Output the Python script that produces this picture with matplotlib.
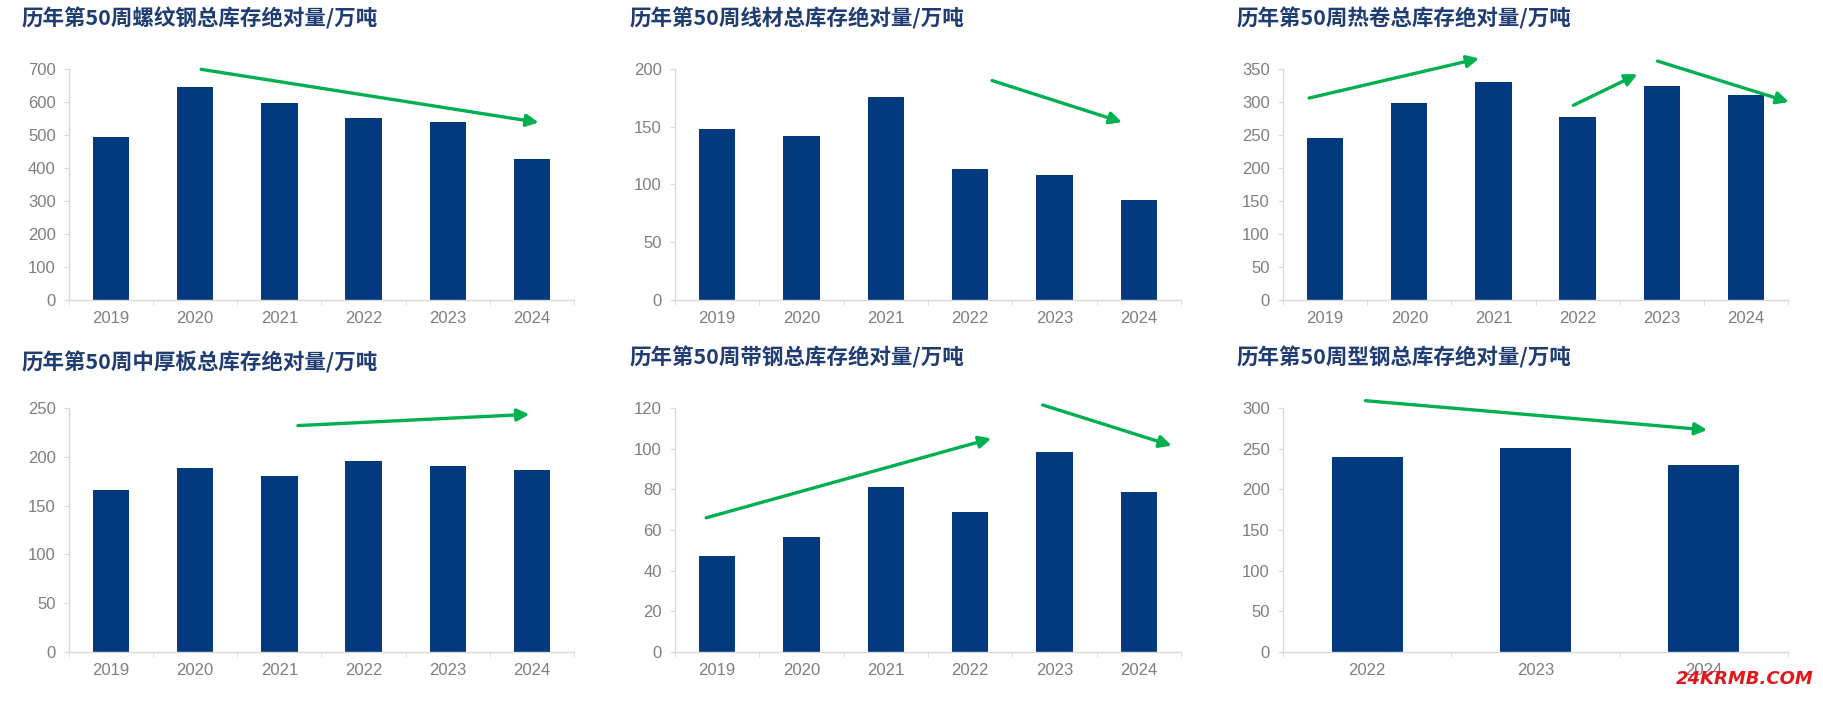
import matplotlib.pyplot as plt
import numpy as np

plt.rcParams['font.family'] = ['Liberation Sans', 'DejaVu Sans']

years6 = ['2019', '2020', '2021', '2022', '2023', '2024']
years3 = ['2022', '2023', '2024']

rebar = [494, 644, 596, 552, 538, 426]
wire = [148, 142, 176, 113, 108, 87]
hotcoil = [245, 298, 330, 277, 325, 310]
plate = [166, 189, 180, 196, 191, 186]
strip = [47, 56.5, 81, 69, 98.5, 78.5]
section = [240, 251, 230]

titles = ['历年第50周螺纹钢总库存绝对量/万吨', '历年第50周线材总库存绝对量/万吨',
          '历年第50周热卷总库存绝对量/万吨', '历年第50周中厚板总库存绝对量/万吨',
          '历年第50周带钢总库存绝对量/万吨', '历年第50周型钢总库存绝对量/万吨']
ymaxes = [700, 200, 350, 250, 120, 300]
ysteps = [100, 50, 50, 50, 20, 50]

# trend arrows per panel: (x0, y0, x1, y1) in data coords
arrows = [
    [(1.07, 699, 5.08, 538)],
    [(3.26, 190, 4.80, 154)],
    [(-0.19, 306, 1.83, 366), (2.95, 295, 3.71, 342), (3.95, 362, 5.51, 300)],
    [(2.22, 232, 4.97, 243.5)],
    [(-0.13, 66, 3.25, 105), (3.86, 121.5, 5.39, 101.5)],
    [(-0.01, 309, 2.02, 273)],
]

bar_color = '#02397F'
green = '#00B050'
W, H = 1823, 706

fig = plt.figure(figsize=(W / 100, H / 100), dpi=100)

# axes boxes in pixels: left, right, top, bottom
boxes = [(69, 574, 69, 300), (675, 1181, 69, 300), (1283, 1788, 69, 300),
         (69, 574, 408, 652), (675, 1181, 408, 652), (1283, 1788, 408, 652)]
title_pos = [(22, 18), (630, 18), (1237, 18), (22, 362), (630, 357), (1237, 357)]

series = [rebar, wire, hotcoil, plate, strip, section]
cats = [years6, years6, years6, years6, years6, years3]

for i in range(6):
    l, r, t, b = boxes[i]
    ax = fig.add_axes([l / W, 1 - b / H, (r - l) / W, (b - t) / H])
    x = np.arange(len(cats[i]))
    width = 0.42 if i == 5 else 0.43
    ax.bar(x, series[i], width=width, color=bar_color, zorder=1)
    ax.set_xlim(-0.5, len(x) - 0.5)
    ax.set_ylim(0, ymaxes[i])
    ax.set_yticks(np.arange(0, ymaxes[i] + 1, ysteps[i]))
    ax.set_xticks(x)
    ax.set_xticklabels(cats[i])
    ax.set_xticks(np.arange(len(x) + 1) - 0.5, minor=True)
    ax.tick_params(axis='x', which='major', length=0, pad=8, labelsize=12, labelcolor='#7F7F7F')
    ax.tick_params(axis='x', which='minor', length=3.6, color='#D9D9D9', direction='out')
    ax.tick_params(axis='y', length=3.6, color='#D9D9D9', pad=6, labelsize=12, labelcolor='#7F7F7F')
    for s in ['top', 'right']:
        ax.spines[s].set_visible(False)
    for s in ['left', 'bottom']:
        ax.spines[s].set_color('#D9D9D9')
        ax.spines[s].set_linewidth(1)

    for (x0, y0, x1, y1) in arrows[i]:
        ax.annotate('', xy=(x1, y1), xytext=(x0, y0), annotation_clip=False,
                    arrowprops=dict(arrowstyle='-|>', color=green, lw=2.4,
                                    mutation_scale=18, shrinkA=0, shrinkB=0))

    tx, ty = title_pos[i]
    fig.text(tx / W, 1 - ty / H, titles[i], family=['Noto Sans CJK SC', 'DejaVu Sans'],
             fontsize=15.5, fontweight='bold', color='#1F3C73', ha='left', va='center')

fig.text(1745 / W, 1 - 679 / H, '24KRMB.COM', color='#E3171B', fontsize=13,
         fontweight='bold', style='oblique', family=['DejaVu Sans'],
         ha='center', va='center')

fig.savefig('out.png', dpi=100)
